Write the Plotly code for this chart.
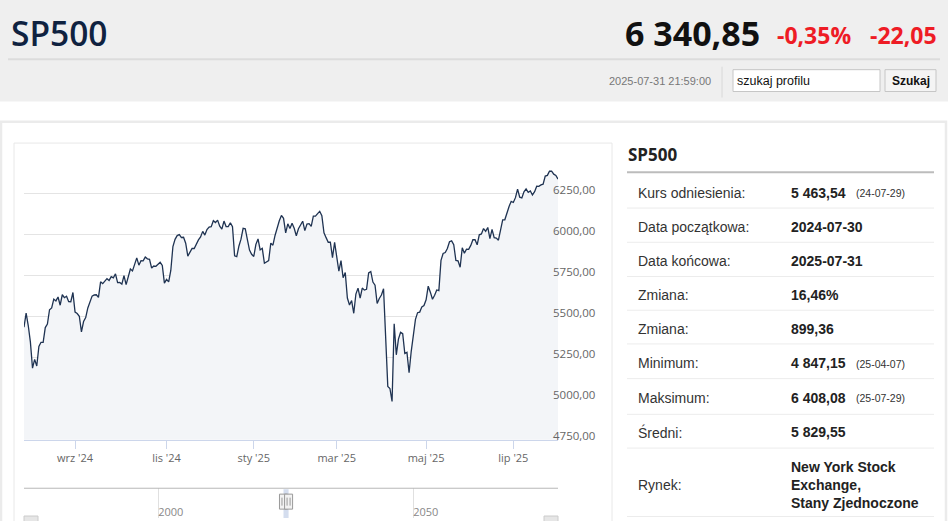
import pandas as pd
import plotly.graph_objects as go

# sesje NYSE od 2024-07-30 do 2025-07-31 (bez świąt)
holidays = ['2024-09-02', '2024-11-28', '2024-12-25', '2025-01-01', '2025-01-09',
            '2025-01-20', '2025-02-17', '2025-04-18', '2025-05-26', '2025-06-19',
            '2025-07-04']
sessions = pd.bdate_range('2024-07-30', '2025-07-31', freq='C', holidays=holidays)
dates = [d.strftime('%Y-%m-%d') for d in sessions]

close_2024 = [
    5436.44, 5522.30,
    5446.68, 5346.56, 5186.33, 5240.03, 5199.50, 5319.31, 5344.16, 5344.39, 5434.43, 5455.21,
    5543.22, 5554.25, 5608.25, 5597.12, 5620.85, 5570.64, 5634.61, 5616.84, 5625.80, 5592.18,
    5591.96, 5648.40,
    5528.93, 5520.07, 5503.41, 5408.42, 5471.05, 5495.52, 5554.13, 5595.76, 5626.02, 5633.09,
    5634.58, 5618.26, 5713.64, 5702.55, 5718.57, 5732.93, 5722.26, 5745.37, 5738.17, 5762.48,
    5708.75, 5709.54, 5699.94, 5751.07, 5695.94, 5751.13, 5792.04, 5780.05, 5815.03, 5859.85,
    5815.26, 5842.47, 5841.47, 5864.67, 5853.98, 5851.20, 5797.42, 5809.86, 5808.12, 5823.52,
    5832.92, 5813.67, 5705.45,
    5728.80, 5712.69, 5782.76, 5929.04, 5973.10, 5995.54, 6001.35, 5983.99, 5985.38, 5949.17,
    5870.62, 5893.62, 5916.98, 5917.11, 5948.71, 5969.34, 5987.37, 6021.63, 5998.74, 6032.38,
    6047.15, 6049.88, 6086.49, 6075.11, 6090.27, 6052.85, 6034.91, 6084.19, 6051.25, 6051.09,
    6074.08, 6050.61, 5872.16, 5867.08, 5930.85, 5974.07, 6040.04, 6037.59, 5970.84, 5906.94,
    5881.63,
]
close_2025 = [
    5868.55, 5942.47, 5975.38, 5909.03, 5918.25, 5827.04, 5836.22, 5842.91, 5949.91, 5937.34,
    5996.66, 6049.24, 6086.37, 6118.71, 6101.24, 6012.28, 6067.70, 6039.31, 6071.17, 6040.53,
    5994.57, 6037.88, 6061.48, 6083.57, 6025.99, 6066.44, 6068.50, 6051.97, 6115.07, 6114.63,
    6129.58, 6144.15, 6117.52, 6013.13, 5983.25, 5955.25, 5956.06, 5861.57, 5954.50,
    5849.72, 5778.15, 5842.63, 5738.52, 5770.20, 5614.56, 5572.07, 5599.30, 5521.52, 5638.94,
    5675.12, 5614.66, 5675.29, 5662.89, 5667.56, 5767.57, 5776.65, 5712.20, 5693.31, 5580.94,
    5611.85,
    5633.07, 5670.97, 5396.52, 5074.08, 5062.25, 4982.77, 5456.90, 5268.05, 5363.36, 5405.97,
    5396.63, 5275.70, 5282.70, 5158.20, 5287.76, 5375.86, 5484.77, 5525.21, 5528.75, 5560.83,
    5569.06,
    5604.14, 5686.67, 5650.38, 5606.91, 5631.28, 5663.94, 5659.91, 5844.19, 5886.55, 5892.58,
    5916.93, 5958.38, 5963.60, 5940.46, 5844.61, 5842.01, 5802.82, 5921.54, 5888.55, 5912.17,
    5911.69,
    5935.94, 5970.37, 5970.81, 5939.30, 6000.36, 6005.88, 6038.81, 6022.24, 6045.26, 5976.97,
    6033.11, 5982.72, 5980.87, 5967.84, 6025.17, 6092.18, 6092.16, 6141.02, 6173.07, 6204.95,
    6198.01, 6227.42, 6279.35, 6229.98, 6225.52, 6263.26, 6280.46, 6259.75, 6268.56, 6243.76,
    6263.70, 6297.36, 6296.79, 6305.60, 6309.62, 6358.91, 6363.35, 6388.64, 6389.77, 6370.86,
    6362.90, 6340.85,
]
closes = close_2024 + close_2025
assert len(closes) == len(dates)

month_ticks = ['2024-09-03', '2024-11-01', '2025-01-02', '2025-03-03', '2025-05-01', '2025-07-01']
month_labels = ["wrz '24", "lis '24", "sty '25", "mar '25", "maj '25", "lip '25"]

y_ticks = [4750, 5000, 5250, 5500, 5750, 6000, 6250, 6500]
y_labels = [f'{v:.2f}'.replace('.', ',') for v in y_ticks[:-1]] + ['']

nav_years = [2000, 2050]
nav_range = [1973.7, 2078.4]

header_name = 'SP500'
header_price = '6 340,85'
header_pct = '-0,35%'
header_chg = '-22,05'
header_time = '2025-07-31 21:59:00'

table_labels = ['Kurs odniesienia:', 'Data początkowa:', 'Data końcowa:', 'Zmiana:', 'Zmiana:',
                'Minimum:', 'Maksimum:', 'Średni:', 'Rynek:']
table_values = ['5 463,54', '2024-07-30', '2025-07-31', '16,46%', '899,36', '4 847,15',
                '6 408,08', '5 829,55', 'New York Stock<br>Exchange,<br>Stany Zjednoczone']
table_notes = ['(24-07-29)', '', '', '', '', '(25-04-07)', '(25-07-29)', '', '']


def year_frac(d):
    ts = pd.Timestamp(d)
    return ts.year + (ts.dayofyear - 1) / (366 if ts.is_leap_year else 365)


# piksele strony -> współrzędne paper
PL, PR, PT, PB = 24, 558, 153, 521
def px(x):
    return (x - PL) / (PR - PL)
def py(y):
    return (PB - y) / (PB - PT)

SANS = 'Liberation Sans, Arial, sans-serif'
OPEN = 'Open Sans, Liberation Sans, sans-serif'

shapes = []
annotations = []


def rect(x0, y0, x1, y1, fill='rgba(0,0,0,0)', line=None, lw=1):
    shapes.append(dict(type='rect', xref='paper', yref='paper',
                       x0=px(x0), x1=px(x1), y0=py(y1), y1=py(y0), fillcolor=fill,
                       line=dict(color=line or 'rgba(0,0,0,0)', width=lw if line else 0)))


def hline(x0, x1, y, color, lw=1):
    shapes.append(dict(type='line', xref='paper', yref='paper', x0=px(x0), x1=px(x1),
                       y0=py(y), y1=py(y), line=dict(color=color, width=lw)))


def text(x, y, s, size, color, anchor='left', family=SANS, weight='normal'):
    annotations.append(dict(x=px(x), y=py(y), xref='paper', yref='paper', text=s,
                            showarrow=False, xanchor=anchor, yanchor='middle', align='left',
                            font=dict(family=family, size=size, color=color, weight=weight)))


# nagłówek
rect(-10, -10, 958, 101, fill='#efefef')
hline(8, 940, 58.5, '#dcdcdc', 2)
shapes.append(dict(type='line', xref='paper', yref='paper', x0=px(722), x1=px(722),
                   y0=py(97), y1=py(66), line=dict(color='#d8d8d8', width=1)))
rect(733, 69, 880, 91, fill='white', line='#c6c6c6')
rect(885, 69, 936, 91, fill='#f4f4f4', line='#c6c6c6')
text(9, 32, header_name, 33.5, '#0f2240', family=OPEN, weight=600)
text(762, 32, header_price, 34, '#111111', anchor='right', family=OPEN, weight='bold')
text(775, 34.5, header_pct, 23, '#ee1c25', family=OPEN, weight='bold')
text(939, 34.5, header_chg, 23, '#ee1c25', anchor='right', family=OPEN, weight='bold')
text(713, 80, header_time, 11, '#777777', anchor='right')
text(735, 80, 'szukaj profilu', 12.5, '#111111')
text(910.5, 80, 'Szukaj', 12, '#111111', anchor='center', weight='bold')

# ramki
rect(1, 121.5, 946, 600, line='#ebebeb', lw=2.5)
rect(14, 143, 612, 600, line='#e8e8e8')

# nawigator
hline(PL, PR, 491, '#b8b8b8', 1)
rect(PL, 519, PL + 14, 530, fill='#e6e6e6', line='#cccccc')
rect(PR - 14, 519, PR, 530, fill='#e6e6e6', line='#cccccc')
sel0, sel1 = year_frac(dates[0]), year_frac(dates[-1])
shapes.append(dict(type='rect', xref='x2', yref='paper', x0=sel0, x1=sel1, y0=0, y1=py(492),
                   fillcolor='rgba(102,133,194,0.28)', line=dict(width=0)))
for xs in (sel0, sel1):
    shapes.append(dict(type='rect', xref='x2', yref='paper', xsizemode='pixel', xanchor=xs,
                       x0=-4, x1=4, ysizemode='pixel', yanchor=py(504.5), y0=-7.5, y1=7.5,
                       fillcolor='#f2f2f2', line=dict(color='#999999', width=1)))
    for off in (-1.5, 1.5):
        shapes.append(dict(type='line', xref='x2', yref='paper', xsizemode='pixel', xanchor=xs,
                           x0=off, x1=off, ysizemode='pixel', yanchor=py(504.5), y0=-4, y1=4,
                           line=dict(color='#999999', width=1)))

# tabela
text(626, 155, header_name, 17, '#222222', family=OPEN, weight='bold')
hline(627, 934, 172.5, '#bcbcbc', 2)
row_y = [193, 227.5, 261.5, 296, 330, 365, 400, 434.5, 487.5]
row_sep = [208.5, 243, 277.5, 311.5, 345.5, 380.5, 416.5, 450.5, 519.5]
for lab, val, nt, y in zip(table_labels, table_values, table_notes, row_y):
    text(636, y, lab, 14, '#333333')
    text(789, y, val, 14, '#222222', weight='bold')
    if nt:
        text(854, y + 0.5, nt, 10.5, '#333333')
for y in row_sep:
    hline(627, 934, y, '#ececec', 1)

fig = go.Figure()
fig.add_trace(go.Scatter(x=dates, y=closes, mode='lines', line=dict(color='#1f3352', width=1.3),
                         fill='tozeroy', fillcolor='#f3f5f8', hoverinfo='x+y'))
fig.add_trace(go.Scatter(x=[sel0, sel1], y=[0.5, 0.5], xaxis='x2', yaxis='y2', mode='lines',
                         line=dict(width=0, color='rgba(0,0,0,0)'), hoverinfo='skip'))

fig.update_layout(
    width=948, height=521,
    margin=dict(l=PL, r=948 - PR, t=PT, b=0),
    paper_bgcolor='white', plot_bgcolor='rgba(0,0,0,0)',
    showlegend=False,
    xaxis=dict(type='category', range=[0, len(dates) - 1], anchor='y',
               tickmode='array', tickvals=month_ticks, ticktext=month_labels,
               showgrid=False, zeroline=False, showline=True, linecolor='#ccd6eb', linewidth=1,
               ticks='outside', ticklen=8, tickcolor='#ccd6eb', tickwidth=1,
               tickfont=dict(family=OPEN, size=11, color='#666666')),
    yaxis=dict(domain=[py(442), 1], range=[4750, 6500], side='right',
               tickmode='array', tickvals=y_ticks, ticktext=y_labels,
               showgrid=True, gridcolor='#e4e4e4', gridwidth=1, zeroline=False,
               showline=False, ticks='', ticklabelposition='outside top', ticklabelstandoff=-6,
               ticklabelshift=4,
               tickfont=dict(family=OPEN, size=11.5, color='#666666')),
    xaxis2=dict(domain=[0, 1], anchor='y2', range=nav_range, tickmode='array',
                tickvals=nav_years, showgrid=True, gridcolor='#e0e0e0', zeroline=False,
                showline=False, ticks='', ticklabelposition='inside right',
                ticklabelstandoff=-6,
                tickfont=dict(family=OPEN, size=11, color='#888888')),
    yaxis2=dict(domain=[0, py(491)], range=[0, 1], visible=False),
    shapes=shapes,
    annotations=annotations,
)

# strona bez domyślnego marginesu body
fig.write_html('out.html', config={'displayModeBar': False},
               post_script="document.body.style.margin='0';")
